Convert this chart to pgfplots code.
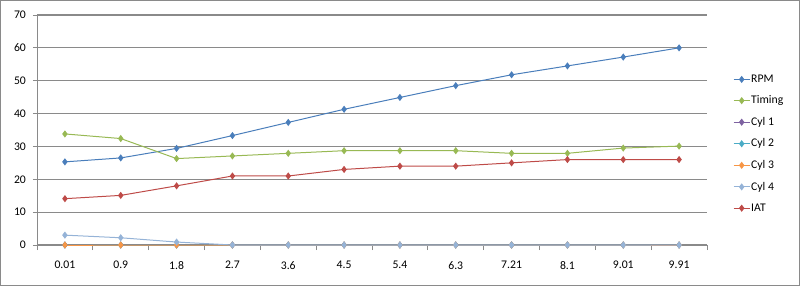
\documentclass[border=0pt]{standalone}
\usepackage{fontspec}
\setmainfont{Carlito}
\usepackage{pgfplots}
\pgfplotsset{compat=1.18}
\definecolor{cRPM}{HTML}{4A7EBB}
\definecolor{cTim}{HTML}{98B954}
\definecolor{cC1}{HTML}{7E62A1}
\definecolor{cC2}{HTML}{4BACC6}
\definecolor{cC3}{HTML}{F79646}
\definecolor{cC4}{HTML}{95B3D7}
\definecolor{cIAT}{HTML}{BE4B48}
\definecolor{gridc}{HTML}{8A8A8A}
\begin{document}
\fontsize{11.7bp}{14bp}\selectfont
\begin{tikzpicture}
\useasboundingbox (-37bp,-41bp) rectangle (763bp,245bp);
\draw[gridc, line width=0.8bp] (-36.5bp,-40.5bp) rectangle (762.5bp,244.5bp);
\begin{axis}[
  at={(0,0)}, anchor=south west,
  scale only axis, width=670bp, height=230bp,
  xmin=-0.5, xmax=11.5, ymin=0, ymax=70,
  axis lines*=left,
  axis line style={draw=gridc, line width=0.9bp, -},
  xtick={0,...,11},
  xticklabels={0.01,0.9,1.8,2.7,3.6,4.5,5.4,6.3,7.21,8.1,9.01,9.91},
  minor xtick={-0.5,0.5,...,11.5},
  ytick={0,10,...,70},
  tick align=outside,
  major tick length=4bp,
  minor tick length=5bp,
  x tick style={draw=none},
  minor x tick style={draw=gridc, line width=0.8bp},
  y tick style={draw=gridc, line width=0.8bp},
  ymajorgrids,
  major grid style={draw=gridc, line width=1.2bp},
  xticklabel style={yshift=-8bp},
  yticklabel style={xshift=-3bp},
  tick label style={font=\fontsize{11.7bp}{14bp}\selectfont},
  /pgf/number format/assume math mode=true,
  clip=false,
  every axis plot/.append style={line width=1bp, mark=diamond*, mark size=2.8bp},
  legend style={draw=none, fill=none, at={(rel axis cs:1,0.44)}, anchor=west, xshift=26bp,
    inner sep=0pt, row sep=9.7bp, font=\fontsize{11.7bp}{14bp}\selectfont,
    nodes={inner sep=1bp}},
  legend cell align=left,
  legend image code/.code={\draw[mark repeat=2,mark phase=2,#1] plot coordinates {(0bp,0bp) (8bp,0bp) (16bp,0bp)};},
]
\addplot[color=cRPM, mark options={fill=cRPM}] coordinates {(0,25.3)(1,26.5)(2,29.4)(3,33.3)(4,37.3)(5,41.3)(6,44.9)(7,48.5)(8,51.8)(9,54.5)(10,57.2)(11,60)};
\addlegendentry{RPM}
\addplot[color=cTim, mark options={fill=cTim}] coordinates {(0,33.8)(1,32.4)(2,26.3)(3,27.1)(4,27.9)(5,28.7)(6,28.7)(7,28.7)(8,27.9)(9,27.9)(10,29.5)(11,30.1)};
\addlegendentry{Timing}
\addplot[color=cC1, mark options={fill=cC1}] coordinates {(0,0)(1,0)(2,0)(3,0)(4,0)(5,0)(6,0)(7,0)(8,0)(9,0)(10,0)(11,0)};
\addlegendentry{Cyl 1}
\addplot[color=cC2, mark options={fill=cC2}] coordinates {(0,0)(1,0)(2,0)(3,0)(4,0)(5,0)(6,0)(7,0)(8,0)(9,0)(10,0)(11,0)};
\addlegendentry{Cyl 2}
\addplot[color=cC3, mark options={fill=cC3}] coordinates {(0,0)(1,0)(2,0)(3,0)(4,0)(5,0)(6,0)(7,0)(8,0)(9,0)(10,0)(11,0)};
\addlegendentry{Cyl 3}
\addplot[color=cC4, mark options={fill=cC4}] coordinates {(0,3)(1,2.2)(2,0.9)(3,0)(4,0)(5,0)(6,0)(7,0)(8,0)(9,0)(10,0)(11,0)};
\addlegendentry{Cyl 4}
\addplot[color=cIAT, mark options={fill=cIAT}] coordinates {(0,14.1)(1,15.1)(2,18)(3,21)(4,21)(5,23)(6,24)(7,24)(8,25)(9,26)(10,26)(11,26)};
\addlegendentry{IAT}
\end{axis}
\end{tikzpicture}
\end{document}
